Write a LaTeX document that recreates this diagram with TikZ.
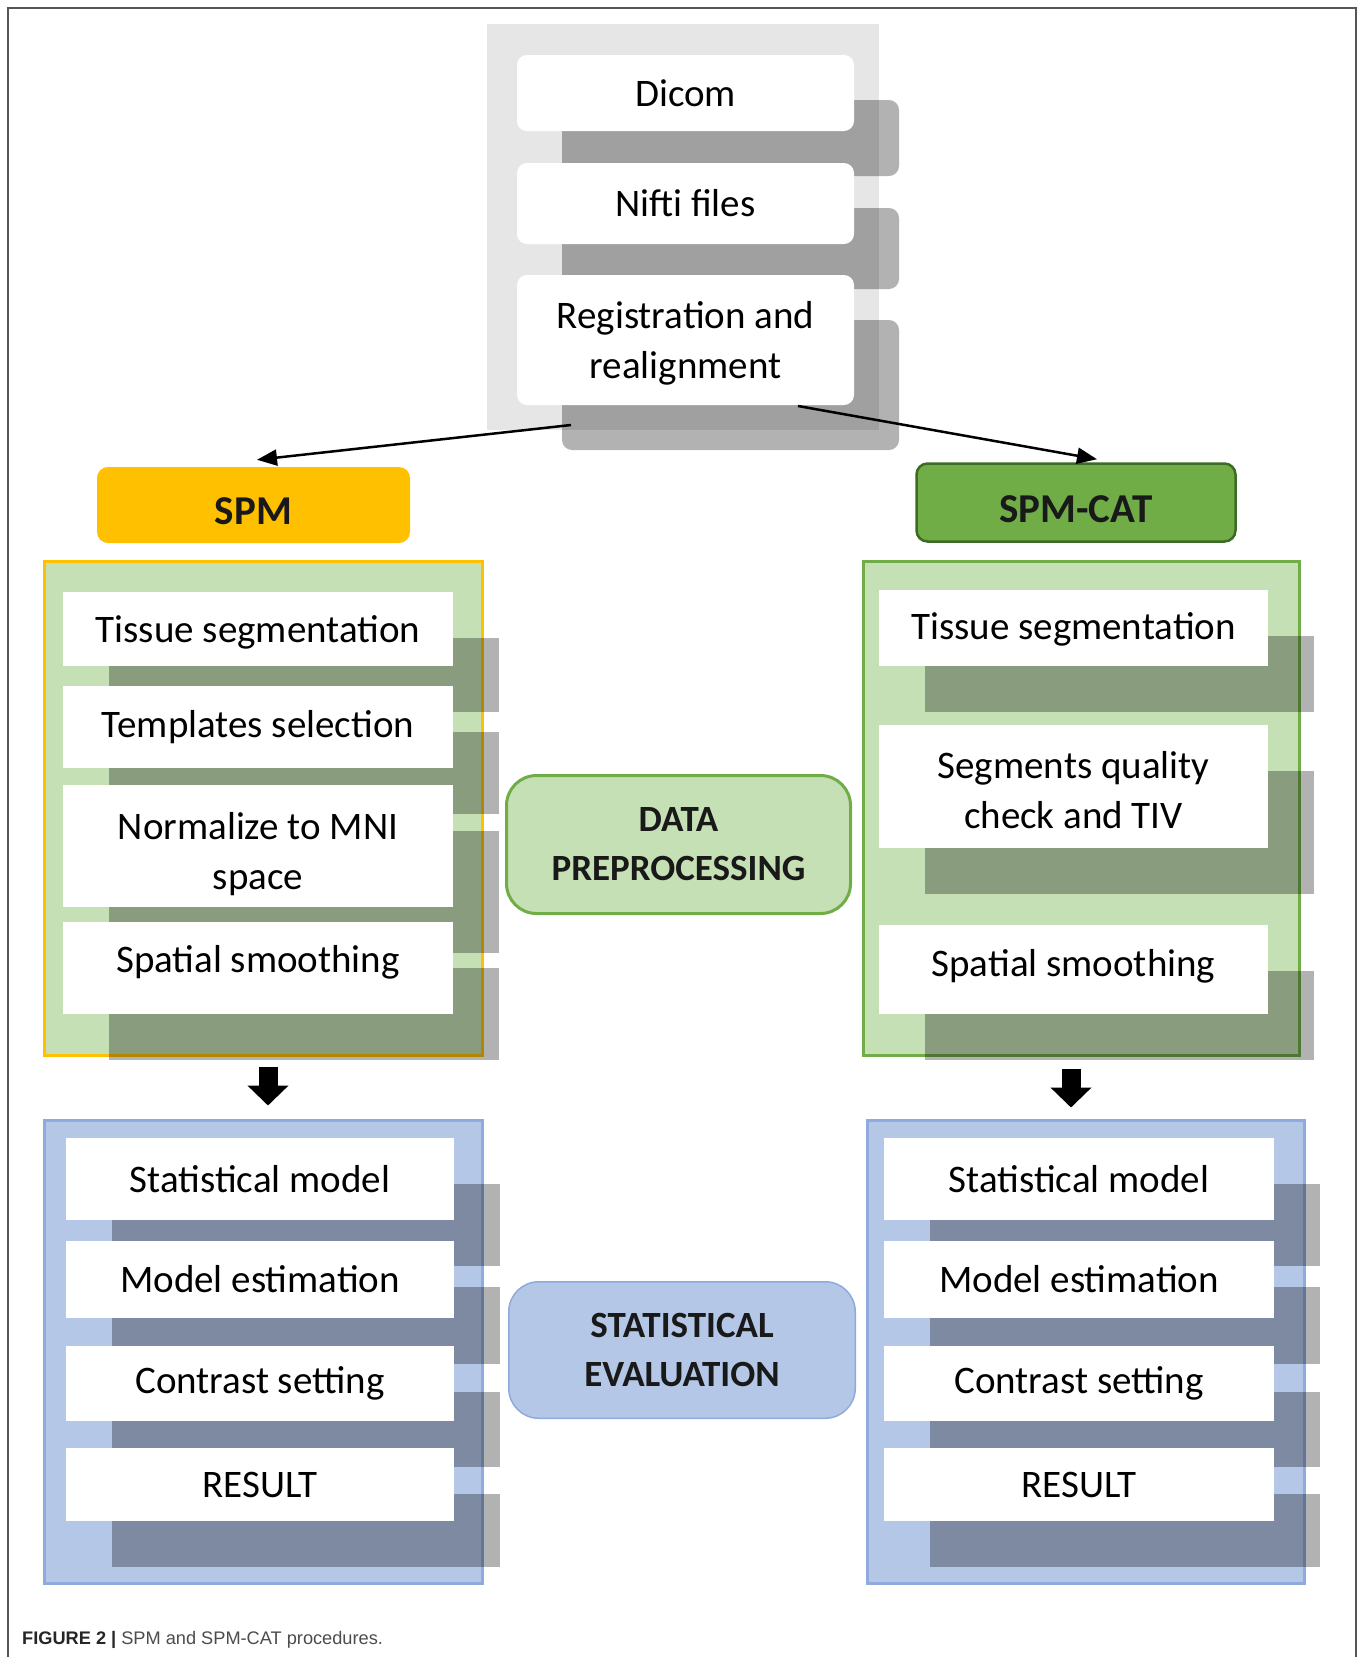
\documentclass[tikz,border=0pt]{standalone}
\usepackage{fontspec}
\setmainfont{Carlito}
\newfontfamily\capfont{Liberation Sans}
\usetikzlibrary{positioning}
\usetikzlibrary{shadows}
\usetikzlibrary{arrows.meta}
\definecolor{SpmColor}{HTML}{FFC000}
\definecolor{CatColor}{HTML}{70AD47}
\definecolor{CatEdge}{HTML}{3B6B25}
\definecolor{PrepColor}{HTML}{C5E0B4}
\definecolor{StatColor}{HTML}{B4C7E7}
\definecolor{StatEdge}{HTML}{8FAADC}
\definecolor{InputColor}{HTML}{E6E6E6}
\definecolor{FrameColor}{HTML}{555555}

\begin{document}
\begin{tikzpicture}[x=1pt,y=-1pt]
\tikzstyle{frame} = [draw=FrameColor, line width=2pt]
\tikzstyle{inputbg} = [rectangle, fill=InputColor, minimum width=392pt, minimum height=406pt, inner sep=0pt]
\tikzstyle{inbox} = [rectangle, fill=white, rounded corners=10pt, minimum width=337pt, inner sep=0pt, align=center, font=\fontsize{39}{50}\selectfont, drop shadow={shadow xshift=45pt, shadow yshift=-45pt, fill=black, opacity=0.3}]
\tikzstyle{head} = [rectangle, rounded corners=11pt, inner sep=0pt, text height=39pt, text depth=0pt, text=black!90, font=\bfseries\fontsize{41}{49}\selectfont]
\tikzstyle{panel} = [rectangle, line width=3pt, inner sep=0pt]
\tikzstyle{task} = [rectangle, fill=white, inner sep=0pt, align=center, font=\fontsize{39}{50}\selectfont, drop shadow={shadow xshift=46pt, shadow yshift=-46pt, fill=black, opacity=0.3}]
\tikzstyle{phase} = [rectangle, rounded corners=30pt, line width=3pt, inner sep=0pt, align=center, text=black!90, font=\bfseries\fontsize{37}{49}\selectfont]
\tikzstyle{connector} = [draw, line width=2.5pt, -{Triangle[length=20pt,width=16pt]}]
\tikzstyle{bigarrow} = [draw, line width=19pt, -{Triangle[length=20pt,width=40pt]}]

\useasboundingbox (0,0) rectangle (1362,1657);
\draw [frame] (8,1657) -- (8,8) -- (1356,8) -- (1356,1657);

% input steps
\node [inputbg] at (683,227) (inbg) {};
\node [inbox, minimum height=76pt] at (685.5,93) (dicom) {Dicom};
\node [inbox, minimum height=81pt] at (685.5,203.5) (nifti) {Nifti files};
\node [inbox, minimum height=130pt] at (685.5,340) (regist) {\rule{0pt}{34pt}Registration and\\realignment};

\node [head, fill=SpmColor, minimum width=313pt, minimum height=76pt] at (253.5,505) (spm) {SPM};
\node [head, fill=CatColor, draw=CatEdge, line width=2.5pt, minimum width=319pt, minimum height=78pt] at (1076,502.5) (spmcat) {SPM-CAT};

% preprocessing panels
\node [panel, fill=PrepColor, draw=SpmColor, minimum width=438pt, minimum height=494pt] at (263.5,808.5) (spmprep) {};
\node [panel, fill=PrepColor, draw=CatColor, minimum width=436pt, minimum height=494pt] at (1081.5,808.5) (catprep) {};

\node [task, minimum width=390pt, minimum height=74pt, text height=35pt, text depth=8pt] at (258,629) (spmseg) {Tissue segmentation};
\node [task, minimum width=390pt, minimum height=82pt] at (258,727) (spmtpl) {Templates selection};
\node [task, minimum width=390pt, minimum height=122pt] at (258,846) (spmnorm) {\rule{0pt}{43pt}Normalize to MNI\\space};
\node [task, minimum width=390pt, minimum height=92pt, text height=28pt, text depth=19pt] at (258,968) (spmsmooth) {Spatial smoothing};

\node [task, minimum width=389pt, minimum height=76pt, text height=31pt, text depth=8pt] at (1073.5,628) (catseg) {Tissue segmentation};
\node [task, minimum width=389pt, minimum height=123pt] at (1073.5,786.5) (catqc) {\rule{0pt}{34pt}Segments quality\\check and TIV};
\node [task, minimum width=389pt, minimum height=89pt, text height=28pt, text depth=15pt] at (1073.5,969.5) (catsmooth) {Spatial smoothing};

% statistics panels
\node [panel, fill=StatColor, draw=StatEdge, minimum width=438pt, minimum height=463pt] at (263.5,1352) (spmstat) {};
\node [panel, fill=StatColor, draw=StatEdge, minimum width=437pt, minimum height=463pt] at (1086,1352) (catstat) {};

\node [task, minimum width=388pt, minimum height=82pt] at (260,1179) (spmmodel) {Statistical model};
\node [task, minimum width=388pt, minimum height=77pt] at (260,1279.5) (spmest) {Model estimation};
\node [task, minimum width=388pt, minimum height=75pt] at (260,1383.5) (spmcon) {Contrast setting};
\node [task, minimum width=388pt, minimum height=73pt] at (260,1484.5) (spmres) {RESULT};

\node [task, minimum width=390pt, minimum height=82pt] at (1079,1179) (catmodel) {Statistical model};
\node [task, minimum width=390pt, minimum height=77pt] at (1079,1279.5) (catest) {Model estimation};
\node [task, minimum width=390pt, minimum height=75pt] at (1079,1383.5) (catcon) {Contrast setting};
\node [task, minimum width=390pt, minimum height=73pt] at (1079,1484.5) (catres) {RESULT};

% phase labels
\node [phase, fill=PrepColor, draw=CatColor, minimum width=344pt, minimum height=138pt] at (678.5,844.5) (prep) {DATA\\PREPROCESSING};
\node [phase, fill=StatColor, draw=StatEdge, line width=1.5pt, minimum width=346.5pt, minimum height=136.5pt] at (682,1350) (eval) {STATISTICAL\\EVALUATION};

\coordinate (regleft) at (571,425);
\coordinate (regright) at (798,406);
\path [connector] (regleft) -- ([xshift=3.5pt,yshift=7pt]spm.north);
\path [connector] (regright) -- ([xshift=21pt,yshift=3pt]spmcat.north);

\path [bigarrow] ([xshift=4.5pt,yshift=-9.5pt]spmprep.south) -- ([xshift=4.5pt,yshift=13.5pt]spmstat.north);
\path [bigarrow] ([xshift=-10.5pt,yshift=-11.5pt]catprep.south) -- ([xshift=-15pt,yshift=11.5pt]catstat.north);

\node [anchor=base west, inner sep=0pt, text=black!70, font=\capfont\fontsize{18.2}{21}\selectfont] at (22,1644) (caption) {\textcolor{black!85}{\textbf{FIGURE 2 |}} SPM and SPM-CAT procedures.};

\end{tikzpicture}
\end{document}
